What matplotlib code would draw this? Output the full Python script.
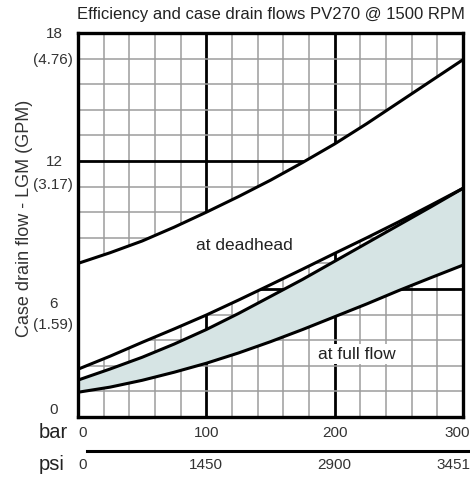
import numpy as np
import matplotlib
matplotlib.use("Agg")
import matplotlib.pyplot as plt
from matplotlib.transforms import blended_transform_factory, offset_copy

plt.rcParams['font.family'] = ['Liberation Sans', 'DejaVu Sans']

# ---- data ----
pressure_bar = [0, 25, 50, 75, 100, 125, 150, 175, 200, 225, 250, 275, 300]
deadhead_upper = [7.2, 7.7, 8.25, 8.9, 9.6, 10.33, 11.1, 11.93, 12.8, 13.75, 14.75, 15.75, 16.75]
deadhead_lower = [2.24, 2.85, 3.5, 4.13, 4.78, 5.48, 6.2, 6.93, 7.67, 8.4, 9.15, 9.93, 10.72]
fullflow_upper = [1.73, 2.25, 2.8, 3.42, 4.1, 4.85, 5.65, 6.45, 7.3, 8.15, 9.0, 9.85, 10.72]
fullflow_lower = [1.16, 1.4, 1.72, 2.1, 2.52, 3.0, 3.53, 4.1, 4.7, 5.3, 5.93, 6.53, 7.12]

bar_ticks = [0, 100, 200, 300]
bar_labels = ['0', '100', '200', '300']
psi_labels = ['0', '1450', '2900', '3451']
lpm_ticks = [0, 6, 12, 18]
lpm_labels = ['0', '6', '12', '18']
gpm_labels = ['', '(1.59)', '(3.17)', '(4.76)']

title = 'Efficiency and case drain flows PV270 @ 1500 RPM'
ylabel = 'Case drain flow - LGM (GPM)'

# ---- figure ----
W, H = 470, 480
fig = plt.figure(figsize=(W / 100, H / 100), dpi=100)
L, R, T, B = 78, 463, 33, 417
ax = fig.add_axes([L / W, 1 - B / H, (R - L) / W, (B - T) / H])
ax.set_xlim(0, 300)
ax.set_ylim(0, 18)

# grid
ax.set_xticks(np.arange(0, 301, 20), minor=True)
ax.set_yticks(np.arange(0, 18.01, 1.2), minor=True)
ax.set_xticks([100, 200])
ax.set_yticks([6, 12])
ax.grid(which='minor', color='#9c9c9c', lw=1.1)
ax.grid(which='major', color='black', lw=2.0)
ax.tick_params(which='both', length=0, labelbottom=False, labelleft=False)
ax.set_axisbelow(True)
for s in ax.spines.values():
    s.set_linewidth(2.4)
    s.set_color('black')
    s.set_zorder(10)

# fills
ax.fill_between(pressure_bar, deadhead_lower, deadhead_upper, color='white', lw=0, zorder=3)
ax.fill_between(pressure_bar, fullflow_lower, fullflow_upper, color='#d6e4e4', lw=0, zorder=3)
for curve in (deadhead_upper, deadhead_lower, fullflow_upper, fullflow_lower):
    ax.plot(pressure_bar, curve, color='black', lw=2.2, zorder=5, solid_capstyle='butt')

ax.text(130, 8.06, 'at deadhead', ha='center', va='center', fontsize=12.5, color='#222222', zorder=6)
ax.text(217.5, 2.95, 'at full flow', ha='center', va='center', fontsize=12.5, color='#222222', zorder=6,
        bbox=dict(facecolor='white', edgecolor='none', pad=1.5))

# y tick labels (two lines)
ytrans = blended_transform_factory(ax.transAxes, ax.transData)
num_off = {0: -7, 6: 15, 12: 1, 18: 1}
gpm_off = {6: 36, 12: 24, 18: 27}
for v, lab, g in zip(lpm_ticks, lpm_labels, gpm_labels):
    t = offset_copy(ytrans, fig=fig, x=-24, y=-num_off[v], units='dots')
    ax.text(0, v, lab, transform=t, ha='center', va='center', fontsize=11, color='#333333')
    if g:
        t2 = offset_copy(ytrans, fig=fig, x=-25, y=-gpm_off[v], units='dots')
        ax.text(0, v, g, transform=t2, ha='center', va='center', fontsize=11, color='#333333')

# x tick label rows
xtrans = blended_transform_factory(ax.transData, ax.transAxes)
row_bar = (B - 433) / (B - T)
row_psi = (B - 465) / (B - T)
for v, lb, lp in zip(bar_ticks, bar_labels, psi_labels):
    if v == 0:
        ha, xx = 'left', 0
    elif v == 300:
        ha, xx = 'right', 305.5
    else:
        ha, xx = 'center', v
    ax.text(xx, row_bar, lb, transform=xtrans, ha=ha, va='center', fontsize=11, color='#333333')
    ax.text(xx, row_psi, lp, transform=xtrans, ha=ha, va='center', fontsize=11, color='#333333')

ax.text(-7.5, row_bar, 'bar', transform=xtrans, ha='right', va='center', fontsize=14.5, color='#222222')
ax.text(-10.5, row_psi, 'psi', transform=xtrans, ha='right', va='center', fontsize=14.5, color='#222222')
line_y = (B - 451) / (B - T)
ax.plot([7, 306], [line_y, line_y], transform=xtrans, color='black', lw=2.2, clip_on=False)

fig.text(271 / W, 1 - 14 / H, title, ha='center', va='center', fontsize=12, color='#222222')
fig.text(25 / W, 1 - 218 / H, ylabel, ha='center', va='center', rotation=90, fontsize=13, color='#333333')

fig.savefig('out.png', dpi=100)
